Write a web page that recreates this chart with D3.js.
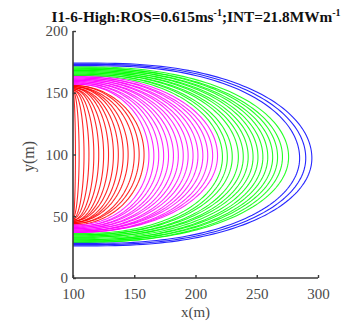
<!DOCTYPE html>
<html><head><meta charset="utf-8">
<script src="https://cdn.jsdelivr.net/npm/d3@7"></script>
<style>body{margin:0;background:#fff}svg{display:block}</style>
</head><body>
<svg id="c" width="364" height="327"></svg>
<script>
// ---- data ----
const xTicks = [100, 150, 200, 250, 300];
const yTicks = [0, 50, 100, 150, 200];
const ignitionX = 100;
// front position (x at the head), top and bottom flank y where each perimeter meets x=100
const redHeads = [102, 105, 109, 113, 117, 121, 125, 129, 133, 137, 141, 145, 150, 154, 158];
const redTops = [150, 151, 151, 152, 152, 153, 153, 154, 154, 154, 155, 155, 155, 156, 156];
const redBottoms = [49, 49, 48, 48, 47, 47, 46, 46, 46, 45, 45, 45, 44, 44, 43];
const magentaHeads = [162, 166, 170, 174, 178, 182, 186, 190, 194, 198, 202, 206, 210, 214, 218];
const magentaTops = [157, 157, 158, 158, 159, 159, 160, 160, 161, 161, 162, 162, 163, 163, 164];
const magentaBottoms = [43, 42, 42, 41, 41, 40, 40, 39, 39, 38, 38, 38, 37, 37, 37];
const greenHeads = [222, 226, 230, 235, 239, 243, 247, 251, 255, 259, 263, 267, 271, 276];
const greenTops = [164, 165, 165, 166, 166, 167, 167, 168, 168, 169, 169, 170, 170, 171];
const greenBottoms = [36, 35, 35, 34, 34, 33, 33, 32, 31, 31, 30, 30, 29, 29];
const blueHeads = [285, 290, 295];
const blueTops = [172, 173, 174];
const blueBottoms = [28, 27, 26];
// per group: y of the head, and share of the run that is straight-ish flank
const groupHeadY = [100, 99, 98, 97];
const groupFlank = [0.0, 0.1, 0.2, 0.3];
const groupColors = ["#ff0000", "#ff00ff", "#00ff00", "#0000ff"];

const groups = [
  {heads: redHeads, tops: redTops, bottoms: redBottoms},
  {heads: magentaHeads, tops: magentaTops, bottoms: magentaBottoms},
  {heads: greenHeads, tops: greenTops, bottoms: greenBottoms},
  {heads: blueHeads, tops: blueTops, bottoms: blueBottoms}
].map((g, i) => ({...g, yc: groupHeadY[i], flank: groupFlank[i], color: groupColors[i]}));

// ---- layout ----
const W = 364, H = 327;
const m = {left: 73, right: 46, top: 31, bottom: 49};
const svg = d3.select("#c");
const x = d3.scaleLinear().domain([100, 300]).range([m.left, W - m.right]);
const y = d3.scaleLinear().domain([0, 200]).range([H - m.bottom, m.top]);

const font = "'Liberation Serif','Times New Roman',serif";
const axisColor = "#3a3a3a";
const textColor = "#4a4a4a";

// perimeters
const line = d3.line().x(d => x(d[0])).y(d => y(d[1])).curve(d3.curveLinear);
const N = 120;
groups.forEach(g => {
  const gg = svg.append("g");
  g.heads.forEach((h, k) => {
    const top = g.tops[k], bot = g.bottoms[k];
    const yc = g.yc;
    const L = h - ignitionX, d = L * g.flank;
    const pts = d3.range(N + 1).map(j => {
      const th = -Math.PI / 2 + Math.PI * j / N;
      const s = Math.sin(th), co = Math.max(Math.cos(th), 0);
      const xx = ignitionX + d * Math.pow(co, 0.35) + (L - d) * co;
      const yy = s >= 0 ? yc + (top - yc) * s : yc + (yc - bot) * s;
      return [xx, yy];
    });
    gg.append("path").attr("d", line(pts))
      .attr("fill", "none").attr("stroke", g.color)
      .attr("stroke-width", 1.1).attr("stroke-opacity", 0.85);
  });
});

// axes
const xAxis = d3.axisBottom(x).tickValues(xTicks).tickSize(-3).tickPadding(10).tickFormat(d3.format("d"));
const yAxis = d3.axisLeft(y).tickValues(yTicks).tickSize(-3).tickPadding(5).tickFormat(d3.format("d"));
const gx = svg.append("g").attr("transform", `translate(0,${H - m.bottom})`).call(xAxis);
const gy = svg.append("g").attr("transform", `translate(${m.left},0)`).call(yAxis);
[gx, gy].forEach(a => {
  a.select(".domain").attr("stroke", axisColor).attr("stroke-width", 1.6);
  a.selectAll(".tick line").attr("stroke", axisColor).attr("stroke-width", 1.4);
  a.selectAll("text").attr("fill", textColor).style("font-family", font).style("font-size", "15px");
});
gx.select(".domain").attr("d", `M${x(100)},0H${x(300)}`);
gy.select(".domain").attr("d", `M0,${y(0)}V${y(200)}`);

// axis labels
svg.append("text").attr("x", (x(100) + x(300)) / 2).attr("y", 316.5)
  .attr("text-anchor", "middle").attr("fill", textColor)
  .style("font-family", font).style("font-size", "15px").text("x(m)");
svg.append("text").attr("transform", `translate(34,${(y(0) + y(200)) / 2 + 2}) rotate(-90)`)
  .attr("text-anchor", "middle").attr("fill", textColor)
  .style("font-family", font).style("font-size", "16px").text("y(m)");

// title
const t = svg.append("text").attr("x", 196).attr("y", 22).attr("text-anchor", "middle")
  .attr("fill", "#111").style("font-family", font).style("font-size", "15.3px").style("font-weight", "bold");
t.append("tspan").text("I1-6-High:ROS=0.615ms");
t.append("tspan").attr("dy", -6).style("font-size", "10px").text("-1");
t.append("tspan").attr("dy", 6).text(";INT=21.8MWm");
t.append("tspan").attr("dy", -6).style("font-size", "10px").text("-1");
</script>
</body></html>
